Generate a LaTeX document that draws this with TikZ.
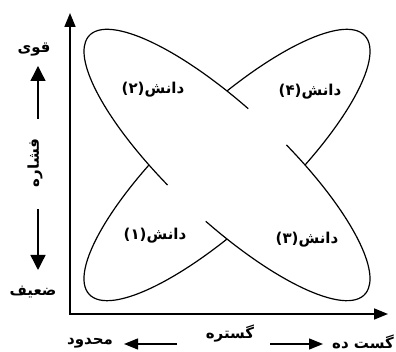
\documentclass[tikz,border=0pt]{standalone}
\usepackage{fontspec}
\usetikzlibrary{arrows.meta}
\TeXXeTstate=1
\newfontfamily\fa[Script=Arabic]{DejaVu Sans}
\begin{document}
\begin{tikzpicture}[x=1pt,y=1pt,
  smallarrow/.style={line width=1.4pt,-{Triangle[length=15pt,width=15pt]}},
  botarrow/.style={line width=1.3pt,-{Triangle[length=14pt,width=11pt]}},
  loop/.style={line width=1.2pt},
  lbl/.style={font=\fa\bfseries\fontsize{15}{17}\selectfont, inner sep=0pt}]
\useasboundingbox (0,0) rectangle (396,352);
% axes
\coordinate (O) at (70,38);
\coordinate (Ytop) at (70,339);
\coordinate (Xend) at (388,38);
\draw[line width=1.7pt,{Triangle[length=14pt,width=11pt]}-{Triangle[length=14pt,width=11pt]}] (Ytop) -- (O) -- (Xend);
% ellipse 1 (lower-left to upper-right), behind
\begin{scope}[shift={(227,187)}, rotate=43.2]
  \draw[loop] (0,0) ellipse[x radius=189, y radius=56];
\end{scope}
% ellipse 2 (upper-left to lower-right), on top, with gaps
\begin{scope}[shift={(227,187)}, rotate=-43.2]
  \fill[white] (0,0) ellipse[x radius=189, y radius=56];
  \draw[loop] (97:189 and 56) arc[start angle=97, end angle=261, x radius=189, y radius=56];
  \draw[loop] (277:189 and 56) arc[start angle=277, end angle=441, x radius=189, y radius=56];
\end{scope}
% knowledge labels
\node[lbl] (k2) at (153,262) {\beginR دانش(۲)\endR};
\node[lbl] (k4) at (310,260) {\beginR دانش(۴)\endR};
\node[lbl] (k1) at (155,116) {\beginR دانش(۱)\endR};
\node[lbl] (k3) at (307,112) {\beginR دانش(۳)\endR};
% left labels
\node[lbl] (strong) at (34,302) {\beginR قوی\endR};
\node[lbl] (weak) at (33,60) {\beginR ضعیف\endR};
\node[lbl, rotate=90] (press) at (35,189) {\beginR فشاره\endR};
\coordinate (ua0) at (38,233);
\coordinate (ua1) at (38,286);
\coordinate (da0) at (38,143);
\coordinate (da1) at (38,82);
\draw[smallarrow] (ua0) -- (ua1);
\draw[smallarrow] (da0) -- (da1);
% bottom labels
\node[lbl] (limited) at (90,9) {\beginR محدود\endR};
\node[lbl] (range) at (230,18) {\beginR گستره\endR};
\node[lbl] (wide) at (363,10) {\beginR گست ده\endR};
\coordinate (la0) at (177,8);
\coordinate (la1) at (124,8);
\coordinate (ra0) at (270,8);
\coordinate (ra1) at (323,8);
\draw[botarrow] (la0) -- (la1);
\draw[botarrow] (ra0) -- (ra1);
\end{tikzpicture}
\end{document}
